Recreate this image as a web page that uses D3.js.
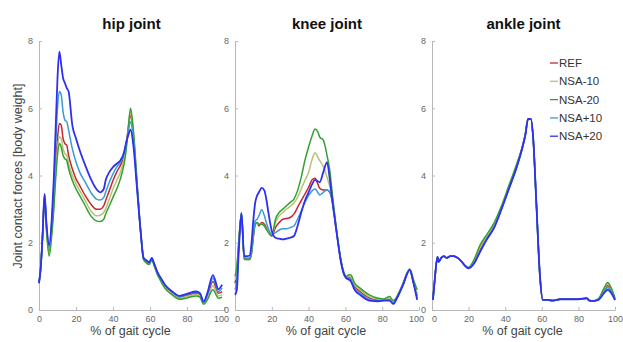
<!DOCTYPE html>
<html>
<head>
<meta charset="utf-8">
<script src="https://cdn.jsdelivr.net/npm/d3@7"></script>
<style>
  body { margin: 0; background: #fff; }
  svg { font-family: "Liberation Sans", Arial, sans-serif; }
  .axis path, .axis line { stroke: #b8b8b8; }
  .axis text { fill: #666; font-size: 9px; }
</style>
</head>
<body>
<svg id="vis"></svg>
<script>
// series names and colours
const seriesNames = ["REF", "NSA-10", "NSA-20", "NSA+10", "NSA+20"];
const seriesColors = ["#c4262e", "#b9c176", "#35a032", "#3b9ad6", "#2f2ff2"];

const xTicks = [0, 20, 40, 60, 80, 100];
const yTicks = [0, 2, 4, 6, 8];

// hip joint
const hipPct = [0, 1, 2, 3, 4, 5.5, 7, 8, 9, 10, 11, 12, 13, 14, 15, 16, 18, 20, 22, 25, 28, 31, 33, 35, 36, 38, 40, 42, 44, 46, 47, 48, 49.5, 51, 53, 55, 56.5, 58, 59.5, 61, 62, 64, 66, 68, 72, 76, 80, 85, 87, 89, 91, 94, 97, 99];
const hipREF   = [0.8, 1.3, 2.3, 3.4, 2.5, 1.75, 2.5, 3.3, 4.3, 5.1, 5.55, 5.5, 5.1, 4.95, 4.9, 4.6, 4.2, 3.9, 3.7, 3.4, 3.15, 3.0, 3.0, 3.1, 3.25, 3.55, 3.85, 4.1, 4.3, 4.6, 4.9, 5.3, 5.78, 5.2, 3.7, 2.3, 1.55, 1.45, 1.4, 1.52, 1.4, 1.1, 0.9, 0.72, 0.52, 0.38, 0.44, 0.5, 0.46, 0.22, 0.42, 0.85, 0.5, 0.55];
const hipNSAm10 = [0.8, 1.3, 2.3, 3.35, 2.45, 1.65, 2.4, 3.1, 4.1, 4.8, 5.15, 5.1, 4.8, 4.65, 4.6, 4.35, 4.0, 3.75, 3.55, 3.25, 2.95, 2.8, 2.82, 2.9, 3.0, 3.3, 3.6, 3.85, 4.1, 4.5, 4.8, 5.3, 5.9, 5.3, 3.75, 2.3, 1.52, 1.42, 1.38, 1.5, 1.38, 1.08, 0.87, 0.68, 0.48, 0.35, 0.4, 0.46, 0.42, 0.2, 0.35, 0.72, 0.42, 0.45];
const hipNSAm20 = [0.8, 1.3, 2.3, 3.3, 2.4, 1.6, 2.3, 3.0, 3.9, 4.6, 4.95, 4.85, 4.6, 4.5, 4.45, 4.2, 3.85, 3.6, 3.4, 3.1, 2.8, 2.65, 2.63, 2.7, 2.85, 3.1, 3.35, 3.6, 3.9, 4.35, 4.7, 5.25, 6.0, 5.35, 3.8, 2.3, 1.5, 1.4, 1.35, 1.48, 1.35, 1.05, 0.84, 0.65, 0.45, 0.32, 0.36, 0.42, 0.38, 0.17, 0.3, 0.6, 0.35, 0.38];
const hipNSAp10 = [0.8, 1.3, 2.3, 3.45, 2.55, 1.85, 2.7, 3.6, 4.9, 6.0, 6.5, 6.4, 5.9, 5.65, 5.6, 5.35, 4.8, 4.4, 4.1, 3.8, 3.5, 3.3, 3.27, 3.35, 3.5, 3.8, 4.05, 4.25, 4.4, 4.65, 4.9, 5.2, 5.6, 5.1, 3.65, 2.3, 1.55, 1.47, 1.41, 1.54, 1.41, 1.12, 0.92, 0.74, 0.54, 0.4, 0.46, 0.53, 0.48, 0.23, 0.45, 0.95, 0.55, 0.65];
const hipNSAp20 = [0.8, 1.3, 2.3, 3.45, 2.6, 1.93, 2.8, 3.9, 5.4, 6.9, 7.68, 7.3, 6.9, 6.75, 6.6, 6.5, 5.5, 5.1, 4.75, 4.3, 3.9, 3.6, 3.5, 3.6, 3.85, 4.1, 4.25, 4.35, 4.45, 4.7, 4.95, 5.15, 5.36, 4.9, 3.6, 2.3, 1.55, 1.48, 1.42, 1.55, 1.42, 1.13, 0.94, 0.76, 0.55, 0.42, 0.48, 0.55, 0.5, 0.25, 0.5, 1.04, 0.62, 0.75];

// knee joint
const kneePct = [0, 1, 2, 3.5, 5, 6.5, 8, 9, 10, 11, 12, 13, 14.5, 16, 17, 18.3, 20, 22, 24, 26, 28, 30, 32, 34, 36, 38, 40, 42, 43.5, 45, 46, 48, 50, 51.5, 53, 54.5, 56, 57.5, 59, 60.5, 62, 63, 65, 68, 73, 78, 81, 84, 86, 88, 91, 95, 97, 99];
const kneeREF   = [0.8, 1.1, 1.9, 2.88, 1.55, 1.52, 1.52, 1.7, 2.2, 2.55, 2.6, 2.5, 2.6, 2.55, 2.45, 2.3, 2.2, 2.45, 2.6, 2.7, 2.72, 2.75, 2.85, 3.05, 3.25, 3.45, 3.65, 3.88, 3.92, 3.75, 3.62, 3.57, 3.57, 3.5, 3.2, 2.6, 2.0, 1.48, 1.1, 0.96, 0.97, 0.95, 0.7, 0.55, 0.36, 0.3, 0.3, 0.32, 0.22, 0.37, 0.72, 1.2, 0.82, 0.42];
const kneeNSAm10 = [0.9, 1.2, 1.95, 2.88, 1.52, 1.5, 1.5, 1.7, 2.2, 2.55, 2.58, 2.55, 2.55, 2.5, 2.42, 2.3, 2.2, 2.6, 2.8, 2.9, 3.0, 3.08, 3.18, 3.35, 3.6, 3.85, 4.1, 4.5, 4.68, 4.55, 4.45, 4.27, 3.95, 3.67, 3.3, 2.65, 2.0, 1.5, 1.12, 0.98, 1.0, 0.98, 0.75, 0.6, 0.4, 0.32, 0.3, 0.35, 0.25, 0.38, 0.73, 1.2, 0.85, 0.5];
const kneeNSAm20 = [1.0, 1.3, 2.0, 2.88, 1.5, 1.5, 1.5, 1.7, 2.2, 2.55, 2.6, 2.55, 2.55, 2.5, 2.4, 2.3, 2.2, 2.7, 2.9, 3.0, 3.1, 3.2, 3.3, 3.55, 3.95, 4.45, 4.85, 5.2, 5.38, 5.3, 5.15, 5.05, 4.6, 4.15, 3.4, 2.7, 2.05, 1.5, 1.15, 1.0, 1.05, 1.04, 0.8, 0.65, 0.45, 0.35, 0.33, 0.4, 0.28, 0.4, 0.75, 1.22, 0.9, 0.6];
const kneeNSAp10 = [0.6, 0.9, 1.8, 2.88, 1.58, 1.55, 1.55, 1.8, 2.3, 2.65, 2.7, 2.8, 2.98, 2.8, 2.6, 2.4, 2.25, 2.3, 2.38, 2.42, 2.42, 2.45, 2.5, 2.7, 2.95, 3.2, 3.4, 3.55, 3.6, 3.5, 3.42, 3.5, 3.57, 3.52, 3.2, 2.6, 2.0, 1.46, 1.1, 0.95, 0.93, 0.9, 0.65, 0.5, 0.32, 0.28, 0.29, 0.3, 0.2, 0.36, 0.71, 1.19, 0.8, 0.35];
const kneeNSAp20 = [0.45, 0.6, 1.7, 2.88, 1.6, 1.6, 1.62, 2.0, 2.7, 3.2, 3.4, 3.5, 3.63, 3.55, 3.3, 2.85, 2.35, 2.15, 2.12, 2.1, 2.12, 2.15, 2.2, 2.5, 2.9, 3.25, 3.5, 3.75, 3.87, 3.83, 3.8, 4.1, 4.4, 3.9, 3.2, 2.6, 2.0, 1.45, 1.1, 0.95, 0.9, 0.85, 0.6, 0.45, 0.28, 0.26, 0.28, 0.28, 0.18, 0.35, 0.7, 1.19, 0.8, 0.3];

// ankle joint
const anklePct = [0.5, 1.5, 3, 3.6, 5, 6.5, 8, 10, 12, 14, 16, 18, 20, 23, 26, 30, 34, 38, 42, 46, 49, 51, 52.5, 54, 55.3, 57, 59, 60.5, 63, 66, 70, 75, 80, 84.5, 86, 88, 91, 94, 96, 98, 100];
const ankleREF   = [0.3, 0.9, 1.58, 1.43, 1.55, 1.6, 1.55, 1.6, 1.6, 1.55, 1.45, 1.32, 1.24, 1.42, 1.75, 2.15, 2.5, 3.03, 3.62, 4.22, 4.75, 5.2, 5.68, 5.68, 5.1, 3.2, 1.0, 0.3, 0.3, 0.28, 0.32, 0.32, 0.32, 0.35, 0.28, 0.27, 0.32, 0.58, 0.72, 0.58, 0.3];
const ankleNSAm10 = [0.3, 0.9, 1.58, 1.43, 1.55, 1.6, 1.55, 1.6, 1.6, 1.55, 1.45, 1.32, 1.26, 1.47, 1.85, 2.2, 2.55, 3.07, 3.66, 4.26, 4.77, 5.22, 5.68, 5.68, 5.1, 3.2, 1.0, 0.3, 0.3, 0.28, 0.32, 0.32, 0.32, 0.35, 0.28, 0.27, 0.33, 0.62, 0.78, 0.62, 0.32];
const ankleNSAm20 = [0.3, 0.9, 1.58, 1.43, 1.55, 1.6, 1.55, 1.6, 1.6, 1.55, 1.45, 1.32, 1.27, 1.5, 1.9, 2.25, 2.6, 3.1, 3.7, 4.3, 4.8, 5.24, 5.68, 5.68, 5.1, 3.2, 1.0, 0.3, 0.3, 0.28, 0.32, 0.32, 0.32, 0.35, 0.28, 0.27, 0.34, 0.65, 0.82, 0.65, 0.35];
const ankleNSAp10 = [0.3, 0.9, 1.58, 1.43, 1.55, 1.6, 1.55, 1.6, 1.6, 1.55, 1.45, 1.32, 1.24, 1.4, 1.72, 2.12, 2.47, 3.01, 3.6, 4.21, 4.75, 5.2, 5.68, 5.68, 5.1, 3.2, 1.0, 0.3, 0.3, 0.28, 0.32, 0.32, 0.32, 0.35, 0.28, 0.27, 0.31, 0.53, 0.66, 0.54, 0.3];
const ankleNSAp20 = [0.3, 0.9, 1.58, 1.43, 1.55, 1.6, 1.55, 1.6, 1.6, 1.55, 1.45, 1.32, 1.24, 1.38, 1.7, 2.1, 2.45, 3.0, 3.6, 4.2, 4.75, 5.2, 5.68, 5.68, 5.1, 3.2, 1.0, 0.3, 0.3, 0.28, 0.32, 0.32, 0.32, 0.35, 0.28, 0.27, 0.3, 0.5, 0.6, 0.5, 0.3];

let config = {
  'svg': { width: 623, height: 342 },
  'plot': { top: 41, bottom: 310 },
  'legend': { x: 550, y: 63, step: 18.3 }
};

let panels = [
  { title: "hip joint",   left: 39,  right: 224, pct: hipPct,   values: [hipREF, hipNSAm10, hipNSAm20, hipNSAp10, hipNSAp20] },
  { title: "knee joint",  left: 235, right: 419, pct: kneePct,  values: [kneeREF, kneeNSAm10, kneeNSAm20, kneeNSAp10, kneeNSAp20] },
  { title: "ankle joint", left: 432, right: 615, pct: anklePct, values: [ankleREF, ankleNSAm10, ankleNSAm20, ankleNSAp10, ankleNSAp20] }
];

const svg = d3.select("svg#vis")
  .attr("width", config.svg.width)
  .attr("height", config.svg.height);

let scaleY = d3.scaleLinear().domain([0, 8]).range([config.plot.bottom, config.plot.top]);

panels.forEach(function(p, n) {
  let scaleX = d3.scaleLinear().domain([0, 100]).range([p.left, p.right]);

  let axisX = d3.axisBottom(scaleX).tickValues(xTicks).tickSize(-3).tickPadding(6).tickSizeOuter(0);
  let axisY = d3.axisLeft(scaleY).tickValues(yTicks).tickSize(-3).tickPadding(6).tickSizeOuter(0);

  let gx = svg.append("g")
    .attr("class", "axis")
    .attr("transform", translate(0, config.plot.bottom))
    .call(axisX);

  // neighbouring panels: keep "100" and "0" from running into each other
  gx.selectAll(".tick text")
    .attr("dx", d => (d === 100 && n < 2) ? -3 : (d === 0 && n > 0 ? 2 : 0));

  svg.append("g")
    .attr("class", "axis")
    .attr("transform", translate(p.left, 0))
    .call(axisY);

  let line = d3.line()
    .x((d, i) => scaleX(p.pct[i]))
    .y(d => scaleY(d))
    .curve(d3.curveMonotoneX);

  p.values.forEach(function(vals, k) {
    svg.append("path")
      .datum(vals)
      .attr("d", line)
      .attr("fill", "none")
      .attr("stroke", seriesColors[k])
      .attr("stroke-width", k === 4 ? 1.8 : 1.5)
      .attr("stroke-linejoin", "round");
  });

  svg.append("text")
    .text(p.title)
    .attr("x", (p.left + p.right) / 2)
    .attr("y", 29)
    .attr("text-anchor", "middle")
    .attr("font-size", "15px")
    .attr("font-weight", "bold")
    .attr("fill", "#111");

  svg.append("text")
    .text("% of gait cycle")
    .attr("x", (p.left + p.right) / 2 - 1)
    .attr("y", 335)
    .attr("text-anchor", "middle")
    .attr("font-size", "12.5px")
    .attr("fill", "#444");
});

svg.append("text")
  .text("Joint contact forces [body weight]")
  .attr("transform", translate(22, 176) + " rotate(-90)")
  .attr("text-anchor", "middle")
  .attr("font-size", "12.5px")
  .attr("fill", "#444");

// legend
let legend = svg.append("g")
  .attr("transform", translate(config.legend.x, config.legend.y));

seriesNames.forEach(function(name, k) {
  let row = legend.append("g").attr("transform", translate(0, k * config.legend.step));
  row.append("line")
    .attr("x1", 0).attr("x2", 8)
    .attr("stroke", seriesColors[k])
    .attr("stroke-width", 1.3);
  row.append("text")
    .text(name)
    .attr("x", 9)
    .attr("y", 4)
    .attr("font-size", "11.5px")
    .attr("fill", "#333");
});

function translate(x, y) {
  return 'translate(' + x + ',' + y + ')';
}
</script>
</body>
</html>
